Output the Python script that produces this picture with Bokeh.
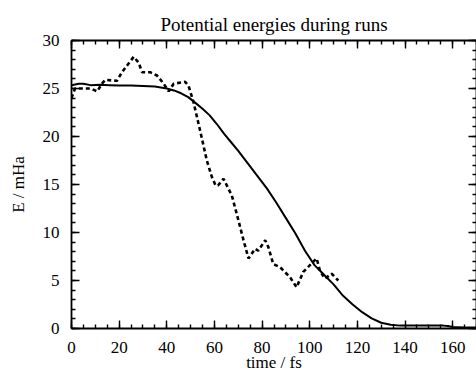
from bokeh.plotting import figure
from bokeh.models import LinearAxis, SingleIntervalTicker, Range1d, CustomJSTickFormatter
from bokeh.embed import file_html
from bokeh.resources import INLINE

# Solid curve
t_solid = [0, 1, 3, 5, 8, 12, 16, 20, 25, 30, 35, 40, 43, 46, 49, 52, 55, 58, 61, 64, 67, 70,
           74, 78, 82, 86, 90, 94, 98, 102, 106, 110, 114, 118, 122, 126, 130, 134, 138, 142,
           150, 156, 158, 160, 165, 170]
e_solid = [25.3, 25.4, 25.5, 25.5, 25.35, 25.4, 25.35, 25.3, 25.3, 25.25, 25.2, 25.0, 24.8, 24.5,
           24.1, 23.5, 22.9, 22.2, 21.3, 20.3, 19.4, 18.5, 17.2, 15.9, 14.6, 13.1, 11.5, 9.9, 8.1,
           6.6, 5.6, 4.6, 3.4, 2.5, 1.7, 1.05, 0.6, 0.4, 0.3, 0.3, 0.3, 0.3, 0.25, 0.15, 0.1, 0.1]

# Dotted curve
t_dot = [0, 1.5, 8, 10.8, 12.8, 14.2, 19.1, 21.2, 26.1, 28.2, 29.6, 33, 35.9, 38.7, 40.8, 42.9,
         47.7, 49.1, 51.2, 54, 56.8, 58.9, 60.5, 61.5, 63.8, 67.3, 69.4, 72.2, 74.3, 77.1, 78.4,
         81.3, 82.6, 84.7, 87.5, 91.7, 94.5, 97.3, 100.1, 102.9, 104.3, 106.4, 109.2, 112]
e_dot = [24.0, 25.0, 25.0, 24.7, 25.5, 25.9, 25.8, 26.7, 28.3, 27.7, 26.7, 26.7, 26.35, 25.5, 24.7,
         25.5, 25.7, 25.3, 23.6, 20.6, 17.5, 15.8, 14.9, 14.9, 15.6, 13.85, 11.9, 9.2, 7.3, 8.3, 8.1,
         9.2, 8.5, 6.7, 6.4, 5.35, 4.3, 5.9, 6.6, 7.3, 6.0, 5.2, 5.7, 5.0]

FONT = "Liberation Serif"

p = figure(width=476, height=375, output_backend="svg", toolbar_location=None,
           x_range=Range1d(0, 170), y_range=Range1d(0, 30),
           title="Potential energies during runs",
           min_border_left=71, min_border_right=0, min_border_top=40, min_border_bottom=47)
p.background_fill_color = "white"
p.border_fill_color = "white"
p.outline_line_color = None
p.grid.visible = False

p.title.text_font = FONT
p.title.text_font_size = "19px"
p.title.text_font_style = "normal"
p.title.align = "center"
p.title.text_color = "black"
p.title.standoff = 12

p.line(t_solid, e_solid, line_color="black", line_width=2)
p.line(t_dot, e_dot, line_color="black", line_width=2.6, line_dash="4 3")

def style(ax, ticker, labels=True):
    ax.ticker = ticker
    ax.axis_line_color = "black"
    ax.axis_line_width = 1.8
    ax.major_tick_line_color = "black"
    ax.minor_tick_line_color = "black"
    ax.major_tick_line_width = 1.4
    ax.minor_tick_line_width = 1.4
    ax.major_tick_in = 8
    ax.major_tick_out = 0
    ax.minor_tick_in = 4
    ax.minor_tick_out = 0
    ax.major_label_text_font = FONT
    ax.major_label_text_color = "black"
    ax.axis_label_text_font = FONT
    ax.axis_label_text_font_style = "normal"
    ax.axis_label_text_color = "black"
    ax.major_label_text_font_size = "17px"
    ax.axis_label_text_font_size = "17px"
    if labels:
        ax.major_label_standoff = 12
    else:
        ax.formatter = CustomJSTickFormatter(code="return ''")
        ax.major_label_standoff = 0

xt = lambda: SingleIntervalTicker(interval=20, num_minor_ticks=4)
yt = lambda: SingleIntervalTicker(interval=5, num_minor_ticks=5)

style(p.xaxis[0], xt())
p.xaxis[0].axis_label = "time / fs"
p.xaxis[0].major_label_standoff = 13
p.xaxis[0].axis_label_standoff = -3
style(p.yaxis[0], yt())
p.yaxis[0].axis_label = "E / mHa"
p.yaxis[0].axis_label_standoff = 12

top = LinearAxis()
style(top, xt(), labels=False)
p.add_layout(top, "above")
right = LinearAxis()
style(right, yt(), labels=False)
p.add_layout(right, "right")

open("out.html", "w").write(file_html(p, INLINE))
